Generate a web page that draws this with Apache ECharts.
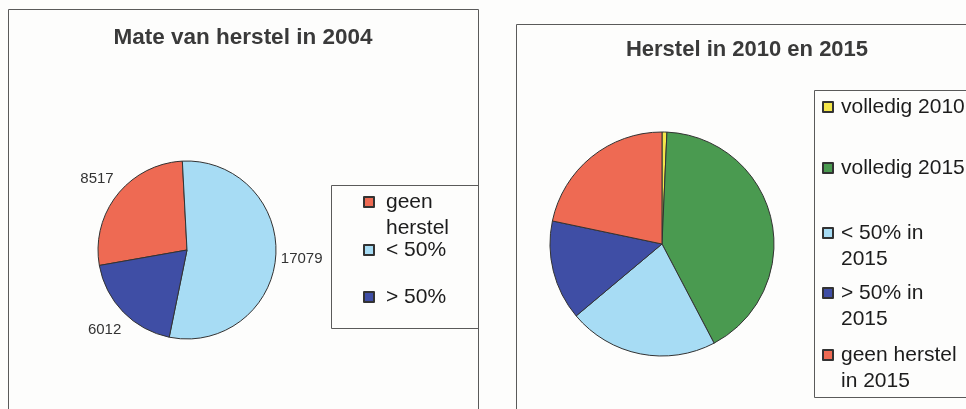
<!DOCTYPE html>
<html>
<head>
<meta charset="utf-8">
<script src="https://cdn.jsdelivr.net/npm/echarts@6/dist/echarts.min.js"></script>
<style>
html,body{margin:0;padding:0;background:#fdfdfc;}
#chart{width:966px;height:409px;}
</style>
</head>
<body>
<div id="chart"></div>
<script>
// ---- data ----
const leftTitle = 'Mate van herstel in 2004';
const leftCategories = ['geen herstel', '< 50%', '> 50%'];
const leftValues = [8517, 17079, 6012];
const leftLegendLabels = ['geen\nherstel', '< 50%', '> 50%'];

const rightTitle = 'Herstel in 2010 en 2015';
const rightCategories = ['volledig 2010', 'volledig 2015', '< 50% in 2015', '> 50% in 2015', 'geen herstel in 2015'];
const rightValues = [0.7, 41.6, 21.6, 14.4, 21.7];
const rightLegendLabels = ['volledig 2010', 'volledig 2015', '< 50% in\n2015', '> 50% in\n2015', 'geen herstel\nin 2015'];

// ---- styling ----
const leftColors = ['#EE6A53', '#A7DCF4', '#3F4EA5'];
const rightColors = ['#F4E64A', '#4A9A50', '#A7DCF4', '#3F4EA5', '#EE6A53'];
const leftLegendY = [202, 250, 297];
const rightLegendY = [107, 168, 233, 293, 355];
const FONT = '"Liberation Sans", Arial, sans-serif';
const LH = 26;

function makeLegend(name, label, x, y, gapPad) {
  const multi = label.indexOf('\n') >= 0;
  // multi-line names: a blank leading line keeps the marker level with the first text line
  const shown = multi ? '\n' + label : label;
  return {
    data: [name],
    orient: 'vertical',
    left: x,
    top: multi ? y - 39 : y - 13,
    padding: 0,
    itemWidth: 10,
    itemHeight: 10,
    itemGap: 0,
    icon: 'rect',
    formatter: function () { return shown; },
    textStyle: {
      fontFamily: FONT,
      fontSize: 21,
      color: '#1c1c1c',
      lineHeight: LH,
      padding: [0, 0, 0, gapPad]
    }
  };
}

const legends = [];
leftCategories.forEach((n, i) => legends.push(makeLegend(n, leftLegendLabels[i], 363, leftLegendY[i], 7)));
rightCategories.forEach((n, i) => legends.push(makeLegend(n, rightLegendLabels[i], 822, rightLegendY[i], 3)));

const chart = echarts.init(document.getElementById('chart'), null, {renderer: 'canvas'});
chart.setOption({
  backgroundColor: '#fdfdfc',
  animation: false,
  title: [
    {text: leftTitle, left: 243, top: 38, textAlign: 'center', textVerticalAlign: 'middle', padding: 0,
     textStyle: {fontFamily: FONT, fontWeight: 'bold', fontSize: 22.5, color: '#3a3a3a'}},
    {text: rightTitle, left: 747, top: 50, textAlign: 'center', textVerticalAlign: 'middle', padding: 0,
     textStyle: {fontFamily: FONT, fontWeight: 'bold', fontSize: 22, color: '#3a3a3a'}}
  ],
  legend: legends,
  graphic: {
    elements: [
      {type: 'rect', z: 0, shape: {x: 8.5, y: 9.5, width: 470, height: 430}, style: {fill: 'none', stroke: '#5a5a5a', lineWidth: 1}},
      {type: 'rect', z: 0, shape: {x: 516.5, y: 24.5, width: 470, height: 430}, style: {fill: 'none', stroke: '#5a5a5a', lineWidth: 1}},
      {type: 'rect', z: 0, shape: {x: 331.5, y: 185.5, width: 147, height: 143}, style: {fill: 'none', stroke: '#5a5a5a', lineWidth: 1}},
      {type: 'rect', z: 0, shape: {x: 814.5, y: 90.5, width: 170, height: 307}, style: {fill: 'none', stroke: '#5a5a5a', lineWidth: 1}}
    ]
  },
  series: [
    {
      type: 'pie',
      center: [187, 250],
      radius: 89,
      startAngle: -170,
      clockwise: true,
      avoidLabelOverlap: false,
      itemStyle: {borderColor: '#333', borderWidth: 1},
      label: {show: true, position: 'outside', formatter: '{c}', fontFamily: FONT, fontSize: 15, color: '#333',
              distanceToLabelLine: 0},
      labelLine: {show: false, length: 26, length2: 0},
      labelLayout: function (p) {
        return {dx: p.align === 'right' ? p.labelRect.width / 2 : -p.labelRect.width / 2};
      },
      emphasis: {disabled: true},
      data: leftCategories.map((n, i) => ({name: n, value: leftValues[i], itemStyle: {color: leftColors[i]}}))
    },
    {
      type: 'pie',
      center: [662, 244],
      radius: 112,
      startAngle: 90,
      clockwise: true,
      itemStyle: {borderColor: '#333', borderWidth: 1},
      label: {show: false},
      labelLine: {show: false},
      emphasis: {disabled: true},
      data: rightCategories.map((n, i) => ({name: n, value: rightValues[i], itemStyle: {color: rightColors[i]}}))
    }
  ]
});
</script>
</body>
</html>
